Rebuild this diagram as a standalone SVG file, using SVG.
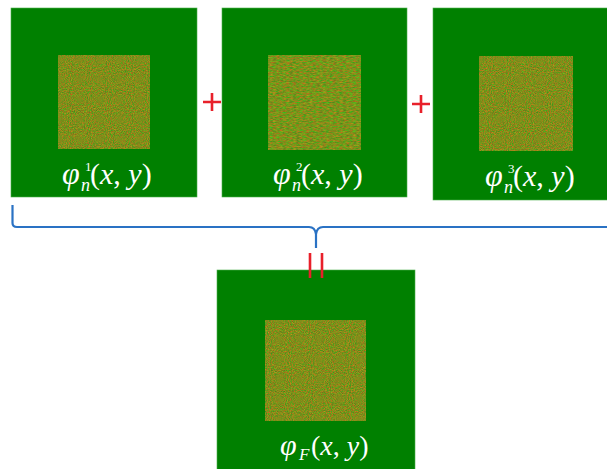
<svg xmlns="http://www.w3.org/2000/svg" width="607" height="469" viewBox="0 0 607 469">
<style>
.panel{fill:#008000;stroke:#4caf4c;stroke-width:0.6}
.lbl{fill:#ffffff}
.it{font-style:italic}
.red{stroke:#e8202a;stroke-width:2.6;fill:none}
.brace{stroke:#2a72c4;stroke-width:2.2;fill:none;stroke-linejoin:round}
</style>
<defs>
<filter id="noise" x="0" y="0" width="100%" height="100%" color-interpolation-filters="sRGB">
<feTurbulence type="fractalNoise" baseFrequency="0.95" numOctaves="2" seed="3"/>
<feColorMatrix type="matrix" values="0.85 0 0 0 0.08  -0.28 0.35 0 0 0.52  0 0 0 0 0.1  0 0 0 0 1"/>
<feGaussianBlur stdDeviation="0.35"/>
</filter>
<filter id="stripes" x="0" y="0" width="100%" height="100%" color-interpolation-filters="sRGB">
<feTurbulence type="fractalNoise" baseFrequency="0.3 0.8" numOctaves="2" seed="7"/>
<feColorMatrix type="matrix" values="0.85 0 0 0 0.06  -0.28 0.35 0 0 0.54  0 0 0 0 0.1  0 0 0 0 1"/>
<feGaussianBlur stdDeviation="0.35"/>
</filter>
</defs>

<g id="panel1" font-family="'Liberation Serif', 'Times New Roman', serif">
<rect class="panel" x="11" y="8" width="186" height="189"/>
<rect x="58" y="55" width="92" height="94" fill="#8a8a20" filter="url(#noise)"/>
<text class="lbl it" x="62" y="184" font-size="32">φ</text>
<text class="lbl" x="85" y="171" font-size="13">1</text>
<text class="lbl it" x="81" y="191" font-size="18">n</text>
<text class="lbl" x="90" y="184" font-size="30">(<tspan class="it">x</tspan>, <tspan class="it">y</tspan>)</text>
</g>

<g id="panel2" font-family="'Liberation Serif', 'Times New Roman', serif">
<rect class="panel" x="222" y="8" width="185" height="189"/>
<rect x="268" y="55" width="93" height="95" fill="#8a8a20" filter="url(#stripes)"/>
<text class="lbl it" x="273" y="184" font-size="32">φ</text>
<text class="lbl" x="296" y="171" font-size="13">2</text>
<text class="lbl it" x="292" y="191" font-size="18">n</text>
<text class="lbl" x="301" y="184" font-size="30">(<tspan class="it">x</tspan>, <tspan class="it">y</tspan>)</text>
</g>

<g id="panel3" font-family="'Liberation Serif', 'Times New Roman', serif">
<rect class="panel" x="433" y="8" width="180" height="192"/>
<rect x="479" y="56" width="94" height="95" fill="#8a8a20" filter="url(#noise)"/>
<text class="lbl it" x="485" y="186" font-size="32">φ</text>
<text class="lbl" x="508" y="173" font-size="13">3</text>
<text class="lbl it" x="504" y="193" font-size="18">n</text>
<text class="lbl" x="513" y="186" font-size="30">(<tspan class="it">x</tspan>, <tspan class="it">y</tspan>)</text>
</g>

<g id="panelF" font-family="'Liberation Serif', 'Times New Roman', serif">
<rect class="panel" x="217" y="270" width="198" height="205"/>
<rect x="265" y="320" width="101" height="101" fill="#8a8a20" filter="url(#noise)"/>
<text class="lbl it" x="280" y="455" font-size="30">φ</text>
<text class="lbl it" x="299" y="460" font-size="17">F</text>
<text class="lbl" x="311" y="455" font-size="28">(<tspan class="it">x</tspan>, <tspan class="it">y</tspan>)</text>
</g>

<g id="connectors">
<path class="red" d="M203,102 H221 M212,93 V111"/>
<path class="red" d="M412,104 H430 M421,95 V113"/>
<path class="brace" d="M12.5,205 V223 Q12.5,227 17,227 H309 Q315,227 316,234 V248 M316,234 Q317,227 323,227 H607"/>
<path class="red" d="M310,253 V278 M322,253 V278"/>
</g>
</svg>
